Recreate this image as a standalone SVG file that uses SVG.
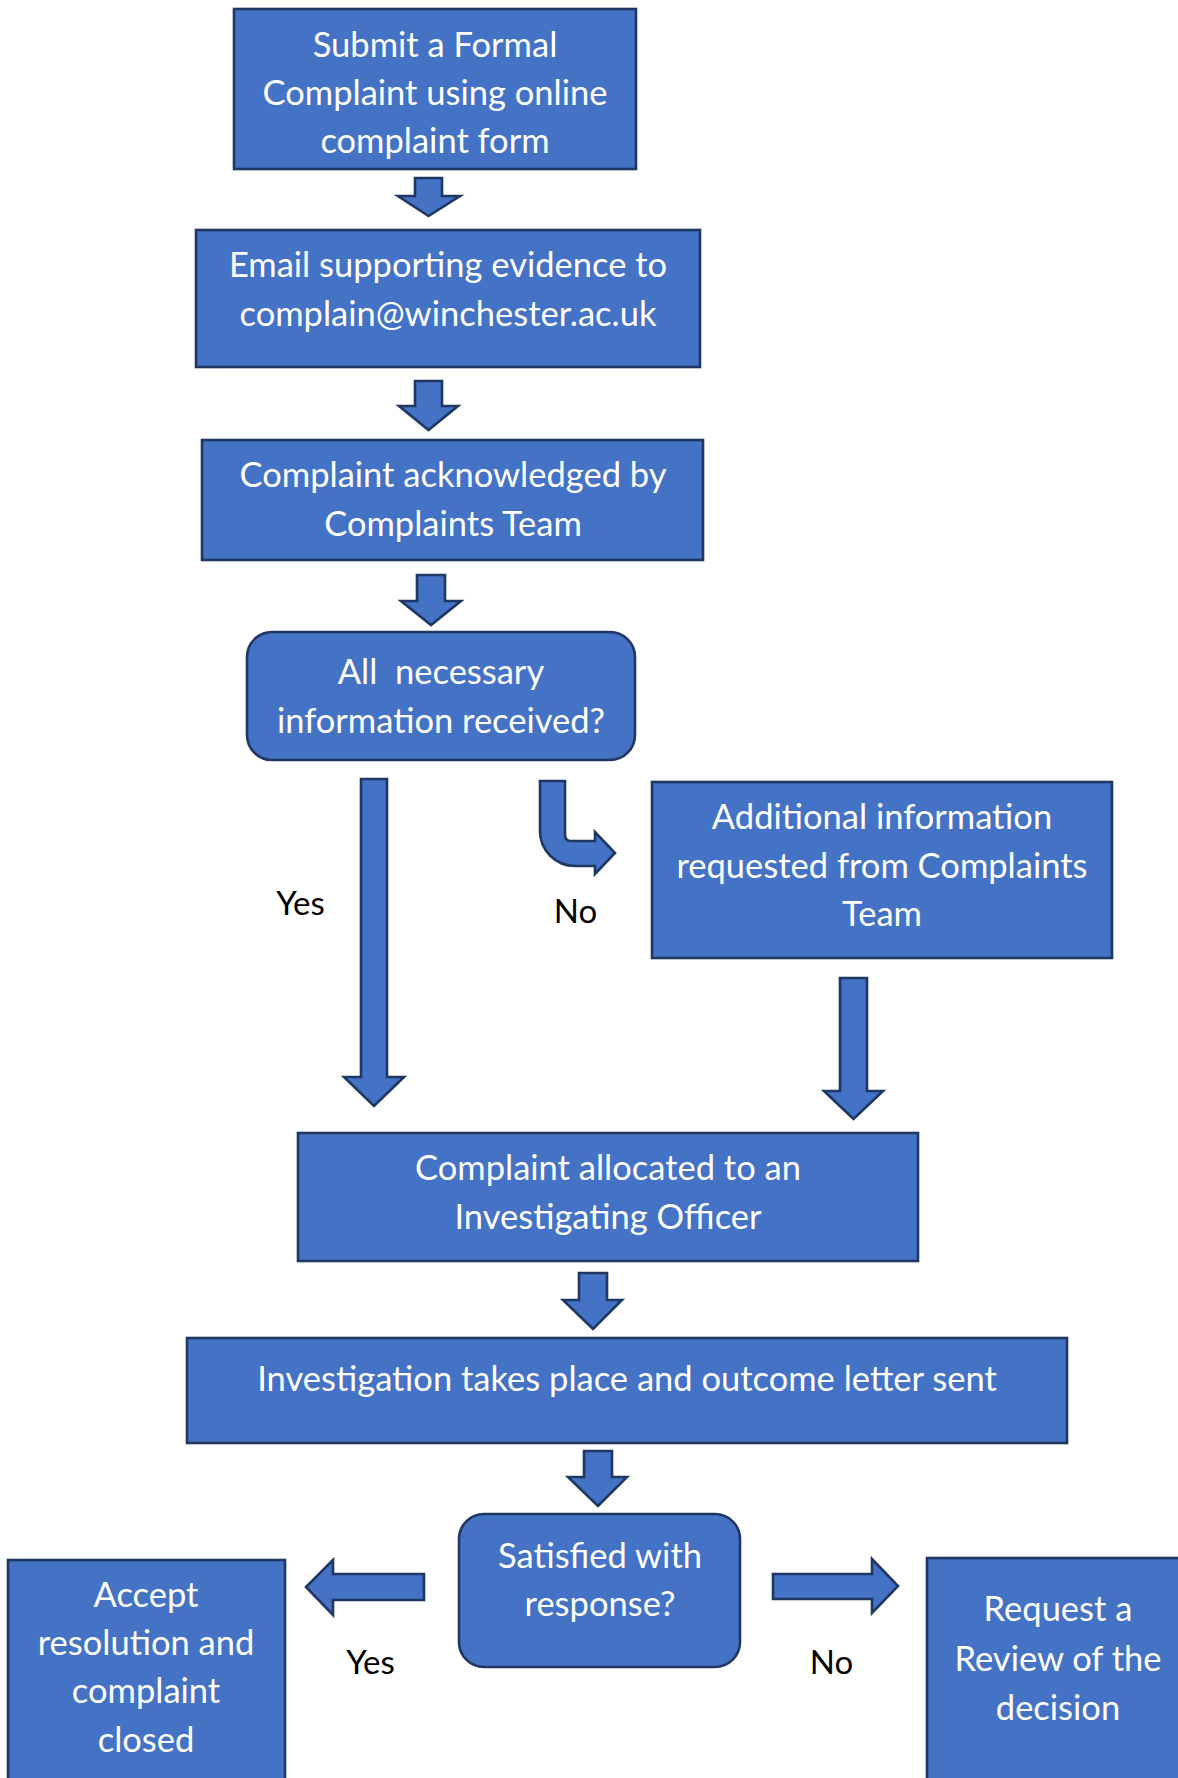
<svg xmlns="http://www.w3.org/2000/svg" width="1178" height="1778" viewBox="0 0 1178 1778">
<style>
.box{fill:#4472C4;stroke:#1F3763;stroke-width:2.6}
.arr{fill:#4472C4;stroke:#1F3763;stroke-width:2.6;stroke-linejoin:miter}
.t{font-family:Lato,"Open Sans","Liberation Sans",sans-serif;font-size:34.5px;fill:#FFFFFF;text-anchor:middle}
.lbl{font-family:Lato,"Open Sans","Liberation Sans",sans-serif;font-size:33px;fill:#000000;text-anchor:middle}
</style>
<rect width="1178" height="1778" fill="#FFFFFF"/>
<g id="connectors">
<path class="arr" d="M415,178 H442 V196 H460 L428.5,216 L398,196 H415 Z"/>
<path class="arr" d="M415,381 H442 V406 H458 L428.5,430 L399,406 H415 Z"/>
<path class="arr" d="M417,575 H445 V601 H461 L431,625 L401,601 H417 Z"/>
<path class="arr" d="M361,779 H387 V1077 H404 L374,1106 L344,1077 H361 Z"/>
<path class="arr" d="M540,781 H565 V835 Q565,841 571,841 H595 V832 L615,853 L595,874 V866 H575 A35,35 0 0 1 540,831 Z"/>
<path class="arr" d="M840,978 H867 V1091 H883 L853.5,1119 L824,1091 H840 Z"/>
<path class="arr" d="M579,1273 H607 V1300 H622 L593,1329 L563,1300 H579 Z"/>
<path class="arr" d="M584,1451 H612 V1477 H627 L598,1506 L568,1477 H584 Z"/>
<path class="arr" d="M424,1574 V1600 H333 V1615 L306,1587 L333,1560 V1574 Z"/>
<path class="arr" d="M773,1574 H872 V1559 L898,1586 L872,1613 V1599 H773 Z"/>
<text class="lbl" x="300.5" y="915">Yes</text>
<text class="lbl" x="575.5" y="923">No</text>
<text class="lbl" x="370.5" y="1674">Yes</text>
<text class="lbl" x="831.5" y="1674">No</text>
</g>
<g id="n1">
<rect class="box" x="234" y="9" width="402" height="160"/>
<text class="t" x="435" y="57">Submit a Formal</text>
<text class="t" x="435" y="105">Complaint using online</text>
<text class="t" x="435" y="153">complaint form</text>
</g>
<g id="n2">
<rect class="box" x="196" y="230" width="504" height="137"/>
<text class="t" x="448" y="277">Email supporting evidence to</text>
<text class="t" x="448" y="326">complain@winchester.ac.uk</text>
</g>
<g id="n3">
<rect class="box" x="202" y="440" width="501" height="120"/>
<text class="t" x="453" y="487">Complaint acknowledged by</text>
<text class="t" x="453" y="536">Complaints Team</text>
</g>
<g id="n4">
<rect class="box" x="247" y="632" width="388" height="128" rx="25" ry="25"/>
<text class="t" x="441" y="684" xml:space="preserve">All  necessary</text>
<text class="t" x="441" y="733">information received?</text>
</g>
<g id="n5">
<rect class="box" x="652" y="782" width="460" height="176"/>
<text class="t" x="882" y="829">Additional information</text>
<text class="t" x="882" y="878">requested from Complaints</text>
<text class="t" x="882" y="926">Team</text>
</g>
<g id="n6">
<rect class="box" x="298" y="1133" width="620" height="128"/>
<text class="t" x="608" y="1180">Complaint allocated to an</text>
<text class="t" x="608" y="1229">Investigating Officer</text>
</g>
<g id="n7">
<rect class="box" x="187" y="1338" width="880" height="105"/>
<text class="t" x="627" y="1391">Investigation takes place and outcome letter sent</text>
</g>
<g id="n8">
<rect class="box" x="459" y="1514" width="281" height="153" rx="25" ry="25"/>
<text class="t" x="600" y="1568">Satisfied with</text>
<text class="t" x="600" y="1616">response?</text>
</g>
<g id="n9">
<rect class="box" x="8" y="1560" width="277" height="230"/>
<text class="t" x="146" y="1607">Accept</text>
<text class="t" x="146" y="1655">resolution and</text>
<text class="t" x="146" y="1703">complaint</text>
<text class="t" x="146" y="1752">closed</text>
</g>
<g id="n10">
<rect class="box" x="927" y="1558" width="265" height="232"/>
<text class="t" x="1058" y="1621">Request a</text>
<text class="t" x="1058" y="1671">Review of the</text>
<text class="t" x="1058" y="1720">decision</text>
</g>
</svg>
